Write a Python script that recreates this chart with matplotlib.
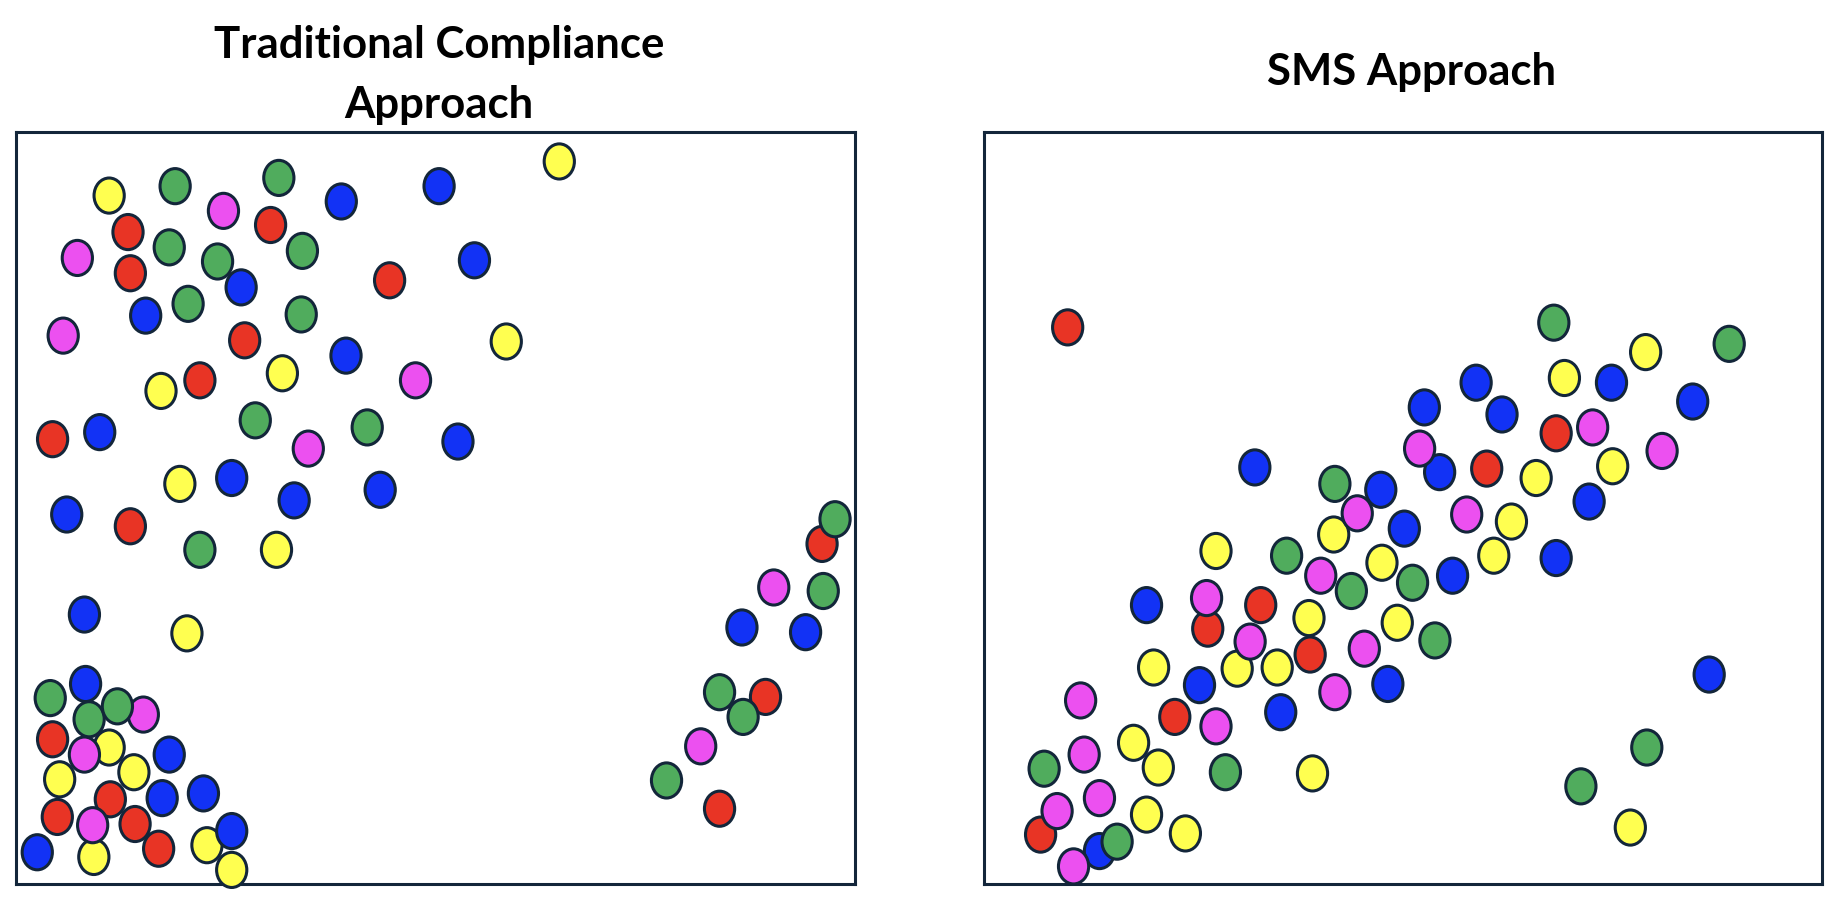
import matplotlib.pyplot as plt
from matplotlib.path import Path
from matplotlib.transforms import Affine2D

# cores das bolinhas
cores = {'R': '#e83425', 'G': '#50ac5d', 'B': '#1232f5', 'Y': '#ffff50', 'M': '#ec50f0'}
contorno = '#13263a'

# Abordagem tradicional (posicoes)
trad_x = [461, 79, 135, 223, 176, 276, 359, 95, 216, 52, 130, 171, 243, 389, 97, 191, 317, 110, 146, 242,
          40, 194, 416, 280, 123, 156, 226, 339, 203, 298, 31, 71, 248, 375, 139, 183, 236, 309, 43, 97,
          156, 221, 58, 145,
          684, 695, 643, 685, 616, 670, 636, 597, 617, 581, 552, 597,
          59, 29, 62, 108, 86, 31, 79, 58, 130, 37, 100, 80, 124, 159, 35, 66, 65, 101, 121, 162,
          183, 183, 18]
trad_y = [614, 585, 593, 600, 572, 580, 593, 554, 560, 532, 541, 529, 538, 530, 519, 507, 513, 483, 493, 484,
          466, 462, 461, 449, 419, 428, 434, 428, 394, 388, 378, 384, 370, 376, 340, 345, 326, 335, 314, 304,
          284, 284, 229, 213,
          289, 310, 252, 249, 218, 214, 159, 163, 142, 117, 88, 64,
          170, 158, 140, 144, 151, 123, 116, 110, 110, 89, 95, 72, 73, 77, 57, 23, 50, 51, 30, 33,
          45, 12, 27]
trad_cor = ['Y', 'Y', 'G', 'G', 'M', 'B', 'B', 'R', 'R', 'M', 'G', 'G', 'G', 'B', 'R', 'B', 'R', 'B', 'G', 'G',
            'M', 'R', 'Y', 'B', 'Y', 'R', 'Y', 'M', 'G', 'G', 'R', 'B', 'M', 'B', 'Y', 'B', 'B', 'B', 'B', 'R',
            'G', 'Y', 'B', 'Y',
            'R', 'G', 'M', 'G', 'B', 'B', 'R', 'G', 'G', 'M', 'G', 'R',
            'B', 'G', 'G', 'M', 'G', 'R', 'Y', 'M', 'B', 'Y', 'Y', 'R', 'B', 'B', 'R', 'Y', 'M', 'R', 'R', 'Y',
            'B', 'Y', 'B']

# Abordagem SMS
sms_x = [71, 484, 562, 633, 493, 533, 418, 374, 440, 602, 486, 517, 387, 370, 427, 469, 534, 576, 230, 298,
         337, 514, 297, 317, 357, 410, 448, 197, 257, 338, 433, 486, 286, 312, 364, 398, 138, 190, 189, 235,
         276, 351, 383, 215, 226, 277, 323, 144, 249, 183, 298, 343, 82, 162, 252, 197, 127, 85, 148, 51,
         205, 279, 98, 48, 62, 138, 98, 113, 171, 76, 616, 563, 507, 549]
sms_y = [473, 477, 452, 459, 430, 426, 426, 405, 399, 410, 383, 388, 350, 370, 353, 345, 355, 368, 354, 340,
         335, 325, 297, 315, 302, 314, 308, 283, 279, 273, 279, 277, 262, 249, 256, 262, 237, 217, 243, 237,
         226, 222, 207, 183, 206, 195, 200, 184, 184, 169, 163, 170, 156, 142, 146, 134, 120, 110, 99, 98,
         95, 94, 73, 42, 62, 59, 28, 36, 43, 15, 178, 116, 83, 48]
sms_cor = ['R', 'G', 'Y', 'G', 'Y', 'B', 'B', 'B', 'B', 'B', 'R', 'M', 'B', 'M', 'R', 'Y', 'Y', 'M', 'B', 'G',
           'B', 'B', 'Y', 'M', 'B', 'M', 'Y', 'Y', 'G', 'Y', 'Y', 'B', 'M', 'G', 'G', 'B', 'B', 'R', 'M', 'R',
           'Y', 'Y', 'G', 'Y', 'M', 'R', 'M', 'Y', 'Y', 'B', 'M', 'B', 'M', 'R', 'B', 'M', 'Y', 'M', 'Y', 'G',
           'G', 'Y', 'M', 'R', 'M', 'Y', 'B', 'G', 'Y', 'M', 'B', 'G', 'G', 'Y']

titulos = ['Traditional Compliance\nApproach', 'SMS Approach']

plt.rcParams['font.family'] = ['Lato', 'DejaVu Sans']

# marcador oval (um pouco mais alto que largo)
oval = Path.unit_circle().transformed(Affine2D().scale(0.86, 1.0))

fig = plt.figure(figsize=(18.46, 9.08), dpi=100)
ax1 = fig.add_axes([0.0087, 0.0264, 0.4545, 0.8282])
ax2 = fig.add_axes([0.5331, 0.0264, 0.4540, 0.8282])

for ax, xs, ys, cs in [(ax1, trad_x, trad_y, trad_cor), (ax2, sms_x, sms_y, sms_cor)]:
    ax.scatter(xs, ys, s=640, marker=oval, c=[cores[c] for c in cs],
               edgecolors=contorno, linewidths=2.2, zorder=3, clip_on=False)
    ax.set_xlim(0, 712)
    ax.set_ylim(0, 639)
    ax.set_xticks([])
    ax.set_yticks([])
    for sp in ax.spines.values():
        sp.set_color(contorno)
        sp.set_linewidth(2.2)

ax1.set_title(titulos[0], fontsize=31.5, fontweight='bold', pad=10, linespacing=1.62, x=0.504)
ax2.set_title(titulos[1], fontsize=31.5, fontweight='bold', pad=34, x=0.51)

fig.savefig('out.png', dpi=100, facecolor='white')
